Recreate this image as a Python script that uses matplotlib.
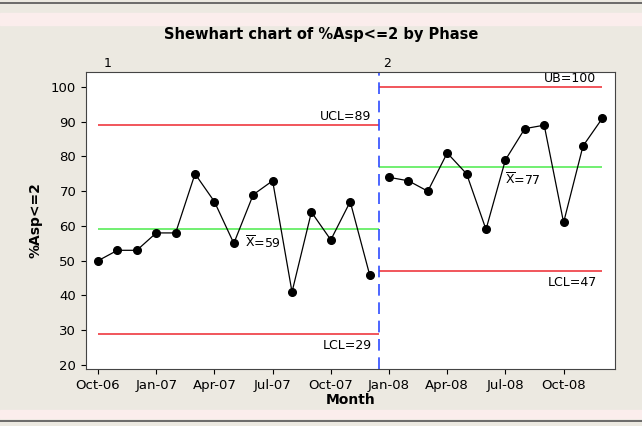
import matplotlib
matplotlib.use("Agg")
import matplotlib.pyplot as plt
import matplotlib.patches as patches

# Data (monthly, Oct-06 .. Dec-08)
phase1_values = [50, 53, 53, 58, 58, 75, 67, 55, 69, 73, 41, 64, 56, 67, 46]
phase2_values = [74, 73, 70, 81, 75, 59, 79, 88, 89, 61, 83, 91]
tick_labels = ["Oct-06", "Jan-07", "Apr-07", "Jul-07", "Oct-07",
               "Jan-08", "Apr-08", "Jul-08", "Oct-08"]
phase1_limits = {"UCL": 89, "mean": 59, "LCL": 29}
phase2_limits = {"UB": 100, "mean": 77, "LCL": 47}

BG = "#ECE9E1"
RED = "#F0484E"
GREEN = "#66EE66"

fig = plt.figure(figsize=(6.42, 4.26), dpi=100, facecolor=BG)

# decorative bands / frame like the original screenshot
fig.patches.append(patches.Rectangle((0, 1 - 25/426), 1, 12/426, transform=fig.transFigure,
                                     color="#FBEDEC", zorder=0))
fig.patches.append(patches.Rectangle((0, 1 - 418/426), 1, 8/426, transform=fig.transFigure,
                                     color="#FBEDEC", zorder=0))
fig.lines.append(plt.Line2D([0, 1], [1 - 3/426, 1 - 3/426], transform=fig.transFigure,
                            color="#555555", lw=1.2))
fig.lines.append(plt.Line2D([0, 1], [1 - 421/426, 1 - 421/426], transform=fig.transFigure,
                            color="#555555", lw=1.2))

ax = fig.add_axes([86/642, 1 - 369/426, 529/642, 297/426])
ax.set_facecolor("white")

n1 = len(phase1_values)
n2 = len(phase2_values)
x1 = list(range(n1))
x2 = list(range(n1, n1 + n2))
split = n1 - 0.5

# limit lines
ax.hlines([phase1_limits["UCL"], phase1_limits["LCL"]], 0, split, color=RED, lw=1.3)
ax.hlines(phase1_limits["mean"], 0, split, color=GREEN, lw=1.3)
ax.hlines([phase2_limits["UB"], phase2_limits["LCL"]], split, x2[-1], color=RED, lw=1.3)
ax.hlines(phase2_limits["mean"], split, x2[-1], color=GREEN, lw=1.3)

ax.axvline(split, color="#2E4BFF", lw=1.2, ls=(0, (7, 4)))

# data
ax.plot(x1, phase1_values, color="black", lw=0.9, marker="o", ms=5.5)
ax.plot(x2, phase2_values, color="black", lw=0.9, marker="o", ms=5.5)

# labels on limit lines
fs = 9
ax.text(split - 0.4, phase1_limits["UCL"] + 0.6, "UCL=89", ha="right", va="bottom", fontsize=fs)
ax.text(split - 0.4, phase1_limits["LCL"] - 1.5, "LCL=29", ha="right", va="top", fontsize=fs)
ax.text(7.6, phase1_limits["mean"] - 1.5, r"$\overline{\mathrm{X}}$=59", ha="left", va="top", fontsize=fs)
ax.text(x2[-1] - 0.3, phase2_limits["UB"] + 0.6, "UB=100", ha="right", va="bottom", fontsize=fs)
ax.text(x2[-1] - 0.3, phase2_limits["LCL"] - 1.5, "LCL=47", ha="right", va="top", fontsize=fs)
ax.text(21.0, phase2_limits["mean"] - 1.5, r"$\overline{\mathrm{X}}$=77", ha="left", va="top", fontsize=fs)

# phase labels
ax.text(0.5, 104.8, "1", ha="center", va="bottom", fontsize=fs)
ax.text(split + 0.4, 104.8, "2", ha="center", va="bottom", fontsize=fs)

ax.set_xlim(-0.62, 26.65)
ax.set_ylim(18.85, 104.3)
ax.set_xticks(range(0, n1 + n2, 3))
ax.set_xticklabels(tick_labels, fontsize=9.5)
ax.set_yticks(range(20, 101, 10))
ax.tick_params(axis="y", labelsize=9.5)
for s in ax.spines.values():
    s.set_color("#444444")

ax.set_xlabel("Month", fontsize=10, fontweight="bold", labelpad=1)
ax.set_ylabel("%Asp<=2", fontsize=10, fontweight="bold", labelpad=6)
fig.text(0.5, 1 - 35/426, "Shewhart chart of %Asp<=2 by Phase", ha="center", va="center",
         fontsize=10.5, fontweight="bold")

fig.savefig("out.png", dpi=100, facecolor=BG)
